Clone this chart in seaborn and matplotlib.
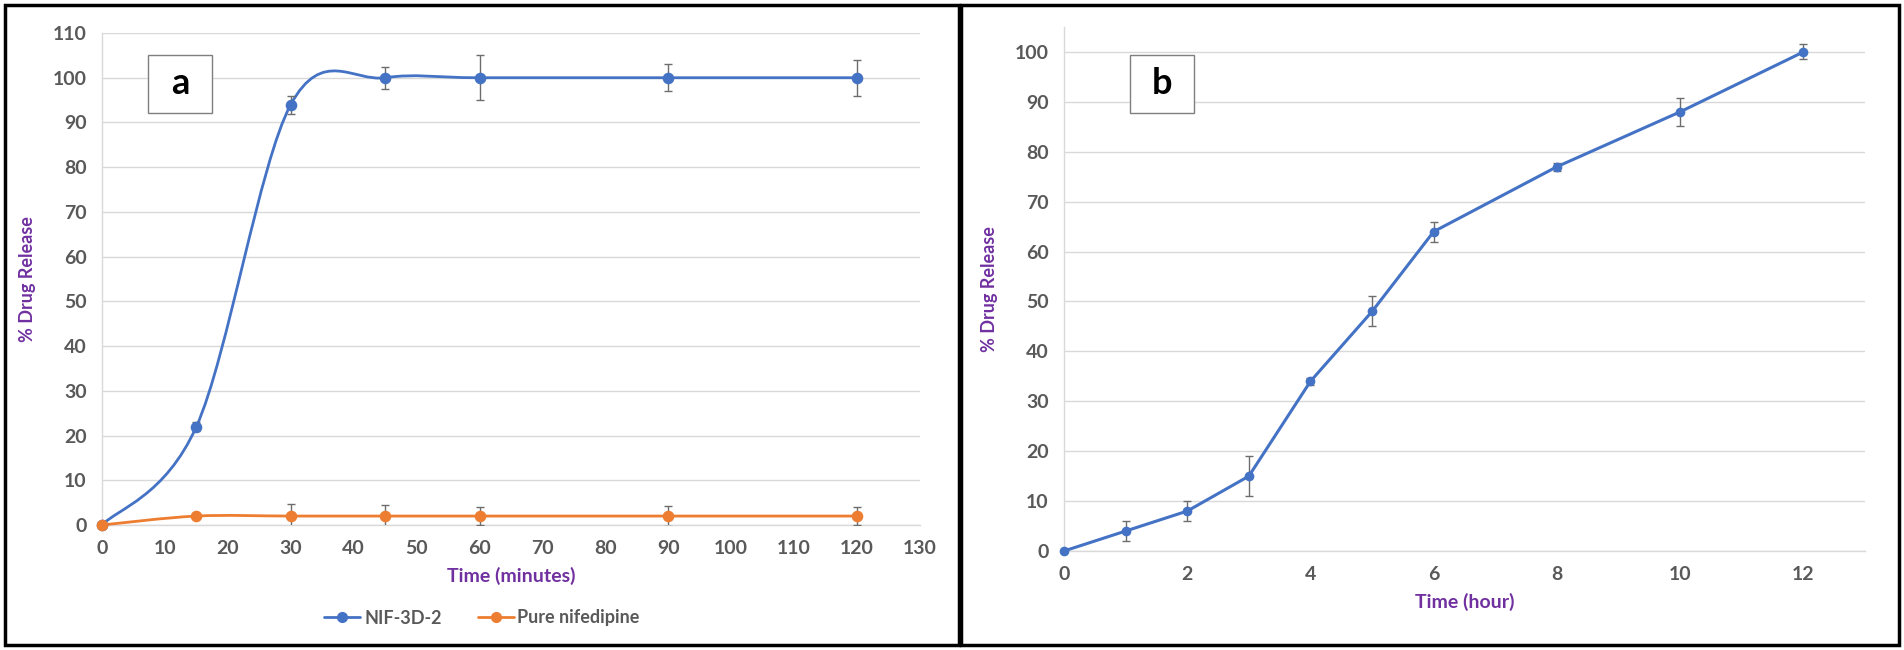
import numpy as np
import pandas as pd
import seaborn as sns
import matplotlib.pyplot as plt
from matplotlib.path import Path
from matplotlib.patches import PathPatch, Rectangle
from matplotlib.lines import Line2D

# panel a: release in minutes
time_min = [0, 15, 30, 45, 60, 90, 120]
nif_3d2 = [0, 22, 94, 100, 100, 100, 100]
nif_3d2_err = [0, 1, 2, 2.5, 5, 3, 4]
pure_nif = [0, 2, 2, 2, 2, 2, 2]
pure_nif_err = [0, 0.5, 2.6, 2.4, 2, 2.2, 2]

# panel b: release in hours
time_hr = [0, 1, 2, 3, 4, 5, 6, 8, 10, 12]
release_hr = [0, 4, 8, 15, 34, 48, 64, 77, 88, 100]
release_hr_err = [0, 2, 2, 4, 0.7, 3, 2, 0.8, 2.8, 1.5]

blue = '#4472C4'
orange = '#ED7D31'
grey_txt = '#595959'
purple = '#7030A0'

sns.set_style('white')
plt.rcParams['font.family'] = ['Lato', 'DejaVu Sans']

W, H = 1904, 650
fig = plt.figure(figsize=(W / 100, H / 100), dpi=100)


def smooth_path(x, y):
    # excel style smoothed line: cubic bezier through the points
    p = np.column_stack([x, y]).astype(float)
    n = len(p)
    verts = [p[0]]
    codes = [Path.MOVETO]
    for i in range(n - 1):
        p0 = p[max(i - 1, 0)]
        p1 = p[i]
        p2 = p[i + 1]
        p3 = p[min(i + 2, n - 1)]
        verts += [p1 + (p2 - p0) / 6, p2 - (p3 - p1) / 6, p2]
        codes += [Path.CURVE4] * 3
    return Path(verts, codes)


def style_axes(ax):
    ax.grid(axis='y', color='#D9D9D9', lw=1)
    ax.set_axisbelow(True)
    for s in ['top', 'right']:
        ax.spines[s].set_visible(False)
    for s in ['left', 'bottom']:
        ax.spines[s].set_color('#D9D9D9')
        ax.spines[s].set_linewidth(1)
    ax.tick_params(length=0, labelsize=14, labelcolor=grey_txt, pad=11)
    for lab in ax.get_xticklabels() + ax.get_yticklabels():
        lab.set_fontweight('bold')


# ---- panel a
ax1 = fig.add_axes([102 / W, 1 - 525 / H, 818 / W, 492 / H])
for t, v, e, c in [(time_min, nif_3d2, nif_3d2_err, blue),
                   (time_min, pure_nif, pure_nif_err, orange)]:
    ax1.add_patch(PathPatch(smooth_path(t, v), fill=False, edgecolor=c, lw=2,
                            zorder=3, clip_on=False))
    ax1.errorbar(t, v, yerr=e, fmt='none', ecolor='#6d6d6d', elinewidth=1, capsize=3, zorder=4)
    sns.scatterplot(x=t, y=v, color=c, s=70, edgecolor=c, linewidth=0, ax=ax1,
                    zorder=5, clip_on=False)
ax1.set_xlim(0, 130)
ax1.set_ylim(0, 110)
ax1.set_xticks(range(0, 131, 10))
ax1.set_yticks(range(0, 111, 10))
style_axes(ax1)
ax1.set_xlabel('Time (minutes)', color=purple, fontsize=14, fontweight='bold', labelpad=7)
ax1.set_ylabel('% Drug Release', color=purple, fontsize=13, fontweight='bold', labelpad=12)

handles = [Line2D([], [], color=blue, lw=2, marker='o', ms=7),
           Line2D([], [], color=orange, lw=2, marker='o', ms=7)]
leg = fig.legend(handles, ['NIF-3D-2', 'Pure nifedipine'], loc='center',
                 bbox_to_anchor=(482 / W, 1 - 618 / H), ncol=2, frameon=False,
                 fontsize=13, handlelength=2.0, handletextpad=0.2, columnspacing=2.0)
for txt in leg.get_texts():
    txt.set_color(grey_txt)
    txt.set_fontweight('bold')

# ---- panel b
ax2 = fig.add_axes([1064 / W, 1 - 551 / H, 801 / W, 524 / H])
df_b = pd.DataFrame({'time': time_hr, 'release': release_hr})
ax2.errorbar(time_hr, release_hr, yerr=release_hr_err, fmt='none', ecolor='#6d6d6d',
             elinewidth=1, capsize=3, zorder=4)
sns.lineplot(data=df_b, x='time', y='release', color=blue, lw=2.2, marker='o',
             markersize=7, markeredgewidth=0, ax=ax2, zorder=5, clip_on=False)
ax2.set_xlim(0, 13)
ax2.set_ylim(0, 105)
ax2.set_xticks([0, 2, 4, 6, 8, 10, 12])
ax2.set_yticks(range(0, 101, 10))
style_axes(ax2)
ax2.set_xlabel('Time (hour)', color=purple, fontsize=14, fontweight='bold', labelpad=7)
ax2.set_ylabel('% Drug Release', color=purple, fontsize=13, fontweight='bold', labelpad=12)

# panel label boxes
for x0, letter in [(148, 'a'), (1130, 'b')]:
    fig.add_artist(Rectangle((x0 / W, 1 - 113 / H), 64 / W, 58 / H,
                             transform=fig.transFigure, fill=True, facecolor='white',
                             edgecolor='#7f7f7f', lw=1))
    fig.text((x0 + 32) / W, 1 - 84 / H, letter, ha='center', va='center',
             fontsize=26, fontweight='bold', color='black')

# outer panel frames
for x0, x1 in [(5, 959), (961, 1899)]:
    fig.add_artist(Rectangle((x0 / W, 5 / H), (x1 - x0) / W, 640 / H,
                             transform=fig.transFigure, fill=False,
                             edgecolor='black', lw=2.5))

fig.savefig('out.png', dpi=100)
